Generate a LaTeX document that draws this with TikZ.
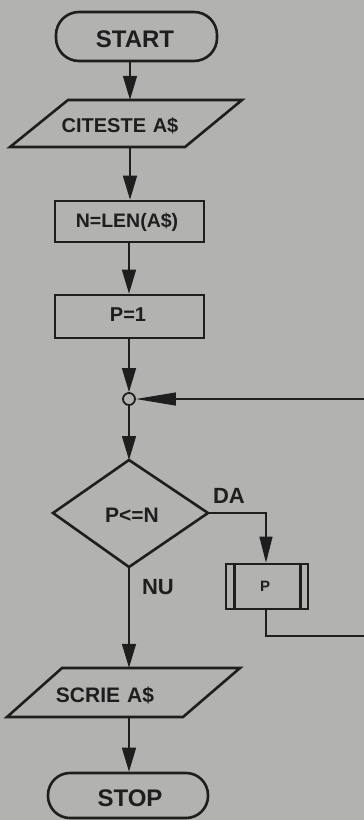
\documentclass[tikz,border=0pt]{standalone}
\usepackage{fontspec}
\setmainfont{Liberation Sans}
\usetikzlibrary{arrows.meta}
\definecolor{paper}{RGB}{178,178,176}
\definecolor{ink}{RGB}{30,30,30}
\tikzset{
  lbl/.style={font=\bfseries\fontsize{#1}{#1}\selectfont, text=ink, inner sep=0pt},
  lbl/.default=20,
  box/.style={draw=ink, line width=2.6pt, inner sep=0pt},
  flow/.style={draw=ink, line width=1.5pt, -{Triangle[length=24pt,width=14pt]}},
  flowlong/.style={draw=ink, line width=1.1pt, -{Triangle[length=40pt,width=13pt]}},
  thin/.style={draw=ink, line width=1.1pt},
}
\begin{document}
\begin{tikzpicture}[x=1pt,y=-1pt]
\fill[paper] (0,0) rectangle (364,820);
\useasboundingbox (0,0) rectangle (364,820);

% START
\node[box, rounded corners=23pt, minimum width=161pt, minimum height=49pt] (start) at (136.5,36.5) {};
\node[lbl=24] (tstart) at (135,39) {START};

% CITESTE A$
\draw[box, line join=miter] (68,100) -- (242,100) -- (185,147) -- (10,147) -- cycle;
\node[minimum width=60pt, minimum height=47pt, inner sep=0pt] (cit) at (130,123.5) {};
\node[lbl=20] (tcit) at (120,126) {CITESTE\,\,A\$};

% N=LEN(A$)
\node[box, minimum width=149pt, minimum height=41pt] (nlen) at (129.5,221.5) {};
\node[lbl=19.5] (tnlen) at (127,222) {N=LEN(A\$)};

% P=1
\node[box, minimum width=149pt, minimum height=43pt] (p1) at (129.5,316.5) {};
\node[lbl=20] (tp1) at (128,315) {P=1};

% junction circle
\node[draw=ink, line width=1.8pt, circle, minimum size=12pt, inner sep=0pt] (join) at (129,399) {};

% decision
\coordinate (dtop) at (129,460);
\coordinate (dright) at (208,513);
\coordinate (dbottom) at (129,567);
\coordinate (dleft) at (53,513);
\draw[box, line join=miter] (dtop) -- (dright) -- (dbottom) -- (dleft) -- cycle;
\node[lbl=21] (tdec) at (132,515) {P<=N};

\node[lbl=22] (da) at (229,496) {DA};
\node[lbl=22] (nu) at (158,587) {NU};

% subroutine P
\node[box, minimum width=82pt, minimum height=45pt] (sub) at (267,586.5) {};
\draw[ink, line width=2.6pt] ([xshift=10pt]sub.north west) -- ([xshift=10pt]sub.south west);
\draw[ink, line width=2.6pt] ([xshift=-9pt]sub.north east) -- ([xshift=-9pt]sub.south east);
\node[lbl=15] (tsub) at (265,586) {P};

% SCRIE A$
\draw[box, line join=miter] (62,668) -- (240,668) -- (183,717) -- (7,717) -- cycle;
\node[minimum width=60pt, minimum height=49pt, inner sep=0pt] (scr) at (129,692.5) {};
\node[lbl=21] (tscr) at (105,695) {SCRIE\,\,A\$};

% STOP
\node[box, rounded corners=22pt, minimum width=160pt, minimum height=45pt] (stop) at (128,795.5) {};
\node[lbl=24] (tstop) at (130,798) {STOP};

% loop corners (return line runs off the right edge of the page)
\coordinate (c1) at (266,513);
\coordinate (c2) at (266,636);
\coordinate (c3) at (370,636);
\coordinate (c4) at (370,399);

% connectors
\draw[flow] (start.south -| cit.north) -- (cit.north);
\draw[flow] (cit.south) -- (nlen.north -| cit.south);
\draw[flow] (nlen.south -| join) -- (p1.north -| join);
\draw[flow] (p1.south -| join) -- (join.north);
\draw[flow] (join.south) -- (dtop);
\draw[thin, -{Triangle[length=26pt,width=13pt]}] (dright) -- (c1) -- (sub.north -| c1);
\draw[flowlong] (sub.south -| c2) -- (c2) -- (c3) -- (c4) -- (join.east);
\draw[flow] (dbottom) -- (scr.north);
\draw[flow] (scr.south) -- (stop.north -| scr.south);
\end{tikzpicture}
\end{document}
